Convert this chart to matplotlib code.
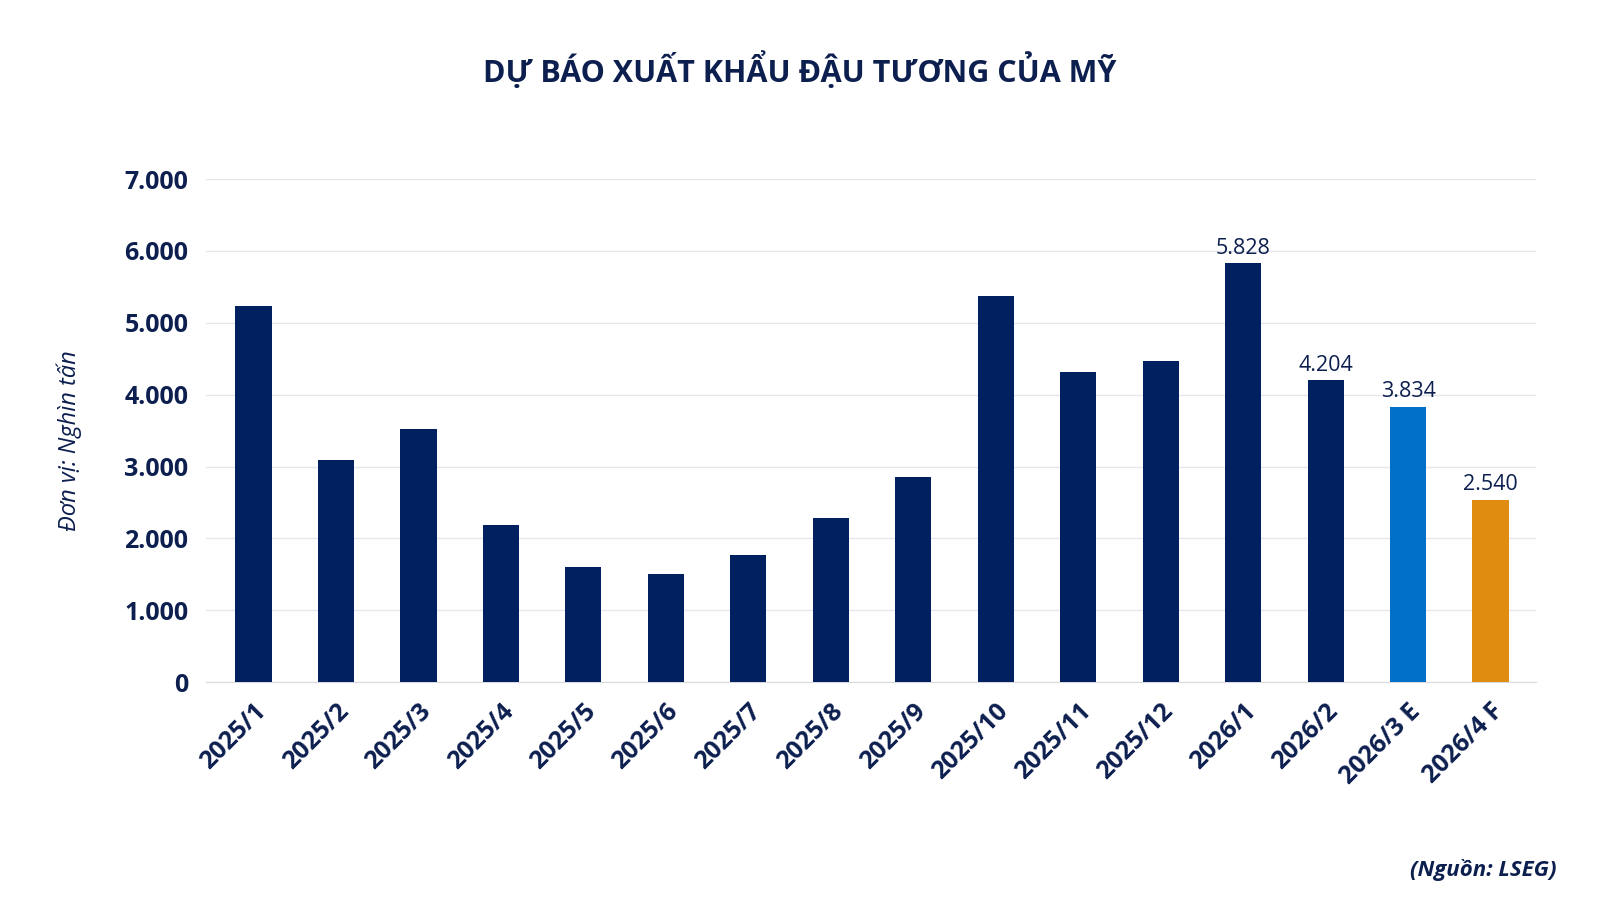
import matplotlib.pyplot as plt

months = ['2025/1', '2025/2', '2025/3', '2025/4', '2025/5', '2025/6', '2025/7', '2025/8',
          '2025/9', '2025/10', '2025/11', '2025/12', '2026/1', '2026/2', '2026/3 E', '2026/4 F']
exports = [5230, 3090, 3520, 2190, 1600, 1500, 1770, 2280,
           2860, 5380, 4310, 4470, 5828, 4204, 3834, 2540]
# only the last few bars carry a value label
labelled = ['2026/1', '2026/2', '2026/3 E', '2026/4 F']

navy = '#00205F'
text_col = '#0C1F4F'
bar_colors = [navy] * 14 + ['#0070C8', '#E08C10']

plt.rcParams['font.family'] = ['Open Sans', 'DejaVu Sans']

fig = plt.figure(figsize=(16, 9), dpi=100)
ax = fig.add_axes([0.129, 0.242, 0.831, 0.559])

x = list(range(len(months)))
bars = ax.bar(x, exports, width=0.44, color=bar_colors, zorder=3)

for i, m in enumerate(months):
    if m in labelled:
        ax.text(i, exports[i] + 60, f"{exports[i]:,}".replace(',', '.'),
                ha='center', va='bottom', fontsize=15.5, color=text_col)

ax.set_xlim(-0.57, 15.55)
ax.set_ylim(0, 7000)
ax.set_yticks(range(0, 7001, 1000))
ax.set_yticklabels([f"{v:,}".replace(',', '.') for v in range(0, 7001, 1000)],
                   fontsize=18, fontweight='bold', color=text_col)
ax.set_xticks(x)
ax.set_xticklabels(months, rotation=45, ha='right', rotation_mode='anchor',
                   fontsize=18, fontweight='bold', color=text_col)
ax.tick_params(axis='both', length=0)
ax.tick_params(axis='y', pad=13)
ax.tick_params(axis='x', pad=12)

ax.grid(axis='y', color='#E6E6EE', linewidth=1, zorder=0)
for s in ['top', 'right', 'left']:
    ax.spines[s].set_visible(False)
ax.spines['bottom'].set_color('#D9D9E0')

fig.text(0.5, 0.922, 'DỰ BÁO XUẤT KHẨU ĐẬU TƯƠNG CỦA MỸ', ha='center', va='center',
         fontsize=22, fontweight='bold', color=text_col)
fig.text(0.043, 0.51, 'Đơn vị: Nghìn tấn', rotation=90, ha='center', va='center',
         fontsize=17, style='italic', color=text_col)
fig.text(0.973, 0.033, '(Nguồn: LSEG)', ha='right', va='center',
         fontsize=16, fontweight='bold', style='italic', color=text_col)

fig.savefig('out.png', dpi=100, facecolor='white')
